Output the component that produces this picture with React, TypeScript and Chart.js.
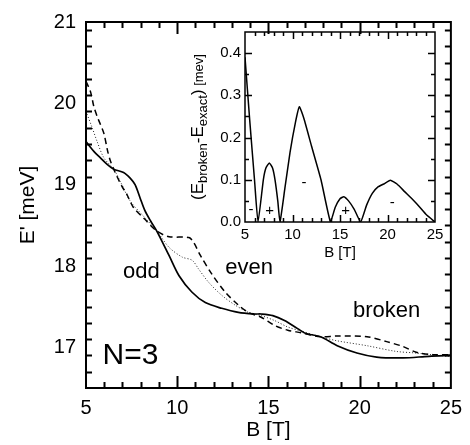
import React, { useEffect, useRef } from 'react';
import { Chart, registerables } from 'chart.js';
Chart.register(...registerables);

const FONT = '"Liberation Sans", Arial, Helvetica, sans-serif';

// ---------- main panel data ----------
const solidB = [5, 5.43, 5.79, 6.16, 6.52, 7.06, 7.42, 7.69, 7.96, 8.23, 8.55, 8.88, 9.55, 10.1, 10.8, 11.54, 12.44, 13.35, 14.25, 14.6, 15.24, 15.88, 16.6, 17.05, 17.86, 18.77, 19.85, 20.93, 22.38, 23.8, 25];
const solidE = [19.53, 19.41, 19.33, 19.25, 19.19, 19.15, 19.08, 19.0, 18.84, 18.68, 18.55, 18.43, 18.13, 17.88, 17.68, 17.55, 17.48, 17.43, 17.41, 17.41, 17.39, 17.33, 17.23, 17.17, 17.13, 17.02, 16.93, 16.88, 16.87, 16.89, 16.9];

const dashedB = [5, 5.25, 5.43, 5.61, 5.79, 5.98, 6.19, 6.34, 6.52, 6.7, 6.97, 7.24, 7.6, 8.2, 8.88, 9.55, 10.64, 10.9, 11.27, 11.9, 12.63, 13.35, 13.9, 14.6, 15.33, 16.06, 16.78, 17.86, 18.77, 20.4, 21.48, 22.38, 23.1, 24.0, 25];
const dashedE = [20.27, 20.14, 19.96, 19.84, 19.74, 19.63, 19.41, 19.29, 19.19, 19.1, 18.98, 18.88, 18.72, 18.58, 18.43, 18.36, 18.35, 18.29, 18.13, 17.9, 17.68, 17.52, 17.43, 17.37, 17.27, 17.21, 17.18, 17.13, 17.14, 17.13, 17.07, 17.01, 16.94, 16.91, 16.91];

const dottedB = [5, 5.34, 5.61, 5.98, 6.52, 6.88, 7.42, 8.2, 8.88, 9.55, 10.27, 10.82, 11.18, 11.72, 12.44, 13.17, 13.9, 14.6, 15.33, 16.06, 16.78, 17.86, 18.77, 20.4, 22.0, 23.1, 24.3, 25];
const dottedE = [19.9, 19.7, 19.53, 19.33, 19.19, 19.04, 18.8, 18.6, 18.43, 18.23, 18.11, 18.07, 17.96, 17.8, 17.64, 17.52, 17.43, 17.39, 17.33, 17.25, 17.2, 17.13, 17.08, 17.02, 16.95, 16.93, 16.9, 16.89];

const mainXTicks = [5, 10, 15, 20, 25];
const mainYTicks = [17, 18, 19, 20, 21];

const mainNoteText = ['odd', 'even', 'broken', 'N=3'];
const mainNoteB = [8.04, 13.94, 21.48, 7.44];
const mainNoteE = [17.93, 17.98, 17.45, 16.9];
const mainNoteSize = [22, 22, 22, 30];

// ---------- inset data ----------
const insetB = [5, 5.5, 6.0, 6.37, 6.93, 7.2, 7.56, 7.9, 8.16, 8.45, 8.68, 9.2, 9.74, 10.3, 10.72, 11.2, 12.0, 13.0, 14.0, 14.5, 15.0, 15.4, 15.9, 16.5, 17.17, 17.8, 18.4, 19.0, 19.6, 20.3, 21.0, 21.8, 22.7, 23.4, 24.1, 25];
const insetV = [0.39, 0.24, 0.1, 0, 0.1, 0.128, 0.14, 0.128, 0.1, 0.05, 0, 0.08, 0.165, 0.235, 0.273, 0.245, 0.18, 0.1, 0, 0.035, 0.055, 0.06, 0.05, 0.03, 0, 0.04, 0.068, 0.083, 0.09, 0.099, 0.09, 0.072, 0.052, 0.035, 0.017, 0];

const insetXTicks = [5, 10, 15, 20, 25];
const insetYTicks = [0, 0.1, 0.2, 0.3, 0.4];

const insetNoteText = ['-', '+', '-', '+', '-'];
const insetNoteB = [5.63, 7.6, 11.2, 15.6, 20.5];
const insetNoteV = [0.028, 0.026, 0.092, 0.026, 0.045];

const pts = (xs: number[], ys: number[]) => xs.map((x, i) => ({ x, y: ys[i] }));

type FrameCfg = {
  boxWidth: number;
  tickWidth: number;
  xMinor: number; xMajor: number; yMinor: number; yMajor: number;
  major: number; minor: number;
  notes: { text: string; x: number; y: number; size: number }[];
  richTitle?: { segs: { text: string; size: number; dy: number }[]; cx: number };
};

function makeFrame(cfg: FrameCfg) {
  return {
    id: 'frame' + Math.random().toString(36).slice(2),
    afterDraw(chart: any) {
      const { ctx, chartArea: ca, scales } = chart;
      const x = scales.x, y = scales.y;
      ctx.save();
      ctx.strokeStyle = '#000';
      ctx.lineWidth = cfg.boxWidth;
      ctx.strokeRect(ca.left, ca.top, ca.right - ca.left, ca.bottom - ca.top);
      ctx.lineWidth = cfg.tickWidth;
      ctx.beginPath();
      const isMaj = (v: number, step: number) => Math.abs(v / step - Math.round(v / step)) < 1e-6;
      const nx = Math.round((x.max - x.min) / cfg.xMinor);
      for (let i = 1; i < nx; i++) {
        const v = x.min + i * cfg.xMinor;
        const px = Math.round(x.getPixelForValue(v)) + 0.5;
        const len = isMaj(v, cfg.xMajor) ? cfg.major : cfg.minor;
        ctx.moveTo(px, ca.bottom); ctx.lineTo(px, ca.bottom - len);
        ctx.moveTo(px, ca.top); ctx.lineTo(px, ca.top + len);
      }
      const ny = Math.round((y.max - y.min) / cfg.yMinor);
      for (let i = 1; i < ny; i++) {
        const v = y.min + i * cfg.yMinor;
        const py = Math.round(y.getPixelForValue(v)) + 0.5;
        const len = isMaj(v, cfg.yMajor) ? cfg.major : cfg.minor;
        ctx.moveTo(ca.left, py); ctx.lineTo(ca.left + len, py);
        ctx.moveTo(ca.right, py); ctx.lineTo(ca.right - len, py);
      }
      ctx.stroke();
      ctx.fillStyle = '#000';
      ctx.textAlign = 'center';
      ctx.textBaseline = 'middle';
      cfg.notes.forEach((n) => {
        ctx.font = `${n.size}px ${FONT}`;
        ctx.fillText(n.text, x.getPixelForValue(n.x), y.getPixelForValue(n.y));
      });
      if (cfg.richTitle) {
        const segs = cfg.richTitle.segs;
        let total = 0;
        segs.forEach((s) => { ctx.font = `${s.size}px ${FONT}`; total += ctx.measureText(s.text).width; });
        const cy = (ca.top + ca.bottom) / 2;
        ctx.translate(cfg.richTitle.cx, cy);
        ctx.rotate(-Math.PI / 2);
        ctx.textAlign = 'left';
        ctx.textBaseline = 'alphabetic';
        let xp = -total / 2;
        segs.forEach((s) => {
          ctx.font = `${s.size}px ${FONT}`;
          ctx.fillText(s.text, xp, s.dy);
          xp += ctx.measureText(s.text).width;
        });
      }
      ctx.restore();
    },
  };
}

export default function App() {
  const mainRef = useRef<HTMLCanvasElement>(null);
  const insetRef = useRef<HTMLCanvasElement>(null);

  useEffect(() => {
    const mainFrame = makeFrame({
      boxWidth: 2, tickWidth: 2,
      xMinor: 1, xMajor: 5, yMinor: 0.2, yMajor: 1,
      major: 12, minor: 6,
      notes: mainNoteText.map((t, i) => ({ text: t, x: mainNoteB[i], y: mainNoteE[i], size: mainNoteSize[i] })),
    });
    const c1 = new Chart(mainRef.current!, {
      type: 'line',
      data: {
        datasets: [
          { data: pts(solidB, solidE), borderColor: '#000', borderWidth: 1.7, pointRadius: 0, tension: 0.3 },
          { data: pts(dashedB, dashedE), borderColor: '#000', borderWidth: 1.5, borderDash: [6, 4], pointRadius: 0, tension: 0.3 },
          { data: pts(dottedB, dottedE), borderColor: '#222', borderWidth: 1, borderDash: [1, 2], pointRadius: 0, tension: 0.3 },
        ],
      },
      options: {
        responsive: false,
        animation: false,
        events: [],
        layout: { padding: { top: 20, right: 15, left: 0, bottom: 0 } },
        plugins: { legend: { display: false }, tooltip: { enabled: false } },
        scales: {
          x: {
            type: 'linear', min: 5, max: 25,
            afterBuildTicks: (s: any) => { s.ticks = mainXTicks.map((v) => ({ value: v })); },
            afterFit: (s: any) => { s.height = 57; },
            ticks: { color: '#000', font: { family: FONT, size: 20 }, padding: 8, maxRotation: 0, autoSkip: false },
            grid: { display: false, drawTicks: false },
            border: { display: false },
            title: { display: true, text: 'B [T]', color: '#000', font: { family: FONT, size: 21 }, padding: { top: 0, bottom: 2 } },
          },
          y: {
            type: 'linear', min: 16.5, max: 21,
            afterBuildTicks: (s: any) => { s.ticks = mainYTicks.map((v) => ({ value: v })); },
            afterFit: (s: any) => { s.width = 86; },
            ticks: { color: '#000', font: { family: FONT, size: 20 }, padding: 10, autoSkip: false },
            grid: { display: false, drawTicks: false },
            border: { display: false },
            title: { display: true, text: "E' [meV]", color: '#000', font: { family: FONT, size: 21 }, padding: { top: 16, bottom: 0 } },
          },
        },
      },
      plugins: [mainFrame],
    } as any);

    const insetFrame = makeFrame({
      boxWidth: 1.5, tickWidth: 1.5,
      xMinor: 1, xMajor: 5, yMinor: 0.05, yMajor: 0.1,
      major: 7, minor: 4,
      notes: insetNoteText.map((t, i) => ({ text: t, x: insetNoteB[i], y: insetNoteV[i], size: 15 })),
      richTitle: {
        cx: 197,
        segs: [
          { text: '(E', size: 17, dy: 6 },
          { text: 'broken', size: 13, dy: 10 },
          { text: '-E', size: 17, dy: 6 },
          { text: 'exact', size: 13, dy: 10 },
          { text: ')', size: 17, dy: 6 },
          { text: ' [mev]', size: 13, dy: 6 },
        ],
      },
    });
    const c2 = new Chart(insetRef.current!, {
      type: 'line',
      data: {
        datasets: [
          { data: pts(insetB, insetV), borderColor: '#000', borderWidth: 1.5, pointRadius: 0, tension: 0.15 },
        ],
      },
      options: {
        responsive: false,
        animation: false,
        events: [],
        layout: { padding: { top: 32, right: 35, left: 150, bottom: 178 } },
        plugins: { legend: { display: false }, tooltip: { enabled: false } },
        scales: {
          x: {
            type: 'linear', min: 5, max: 25,
            afterBuildTicks: (s: any) => { s.ticks = insetXTicks.map((v) => ({ value: v })); },
            afterFit: (s: any) => { s.height = 45; },
            ticks: { color: '#000', font: { family: FONT, size: 15 }, padding: 4, maxRotation: 0, autoSkip: false },
            grid: { display: false, drawTicks: false },
            border: { display: false },
            title: { display: true, text: 'B [T]', color: '#000', font: { family: FONT, size: 15 }, padding: { top: 0, bottom: 5 } },
          },
          y: {
            type: 'linear', min: 0, max: 0.45,
            afterBuildTicks: (s: any) => { s.ticks = insetYTicks.map((v) => ({ value: v })); },
            afterFit: (s: any) => { s.width = 95; },
            ticks: { color: '#000', font: { family: FONT, size: 15 }, padding: 4, autoSkip: false, callback: (v: any) => Number(v).toFixed(1) },
            grid: { display: false, drawTicks: false },
            border: { display: false },
          },
        },
      },
      plugins: [insetFrame],
    } as any);

    return () => { c1.destroy(); c2.destroy(); };
  }, []);

  return (
    <div style={{ position: 'absolute', left: 0, top: 0, width: 470, height: 445, background: '#fff' }}>
      <canvas ref={mainRef} width={470} height={445} style={{ position: 'absolute', left: 0, top: 0 }} />
      <canvas ref={insetRef} width={470} height={445} style={{ position: 'absolute', left: 0, top: 0 }} />
    </div>
  );
}
